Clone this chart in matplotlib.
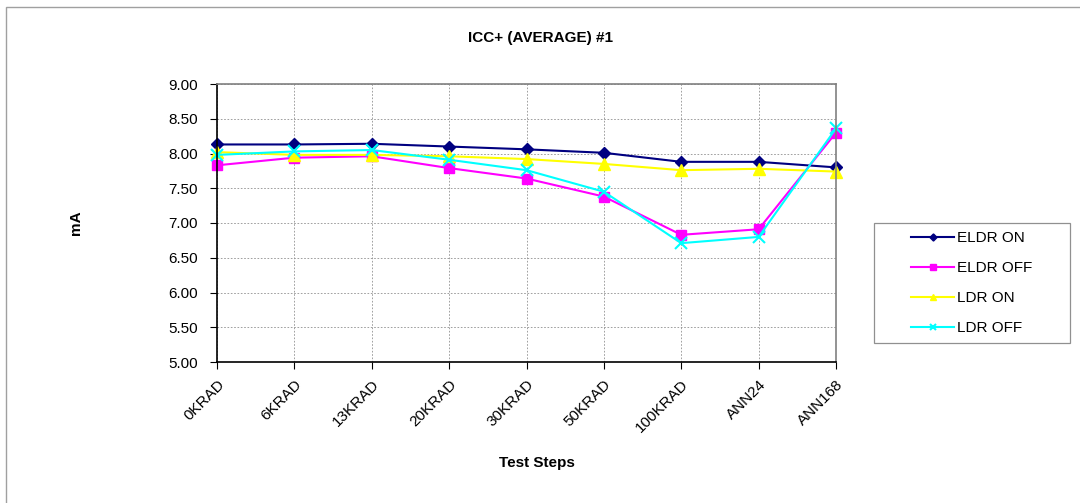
import matplotlib.pyplot as plt
from matplotlib.patches import Rectangle

plt.rcParams['font.family'] = ['Liberation Sans', 'DejaVu Sans']

# datos
pasos = ['0KRAD', '6KRAD', '13KRAD', '20KRAD', '30KRAD', '50KRAD', '100KRAD', 'ANN24', 'ANN168']
eldr_on = [8.13, 8.13, 8.14, 8.10, 8.06, 8.01, 7.88, 7.88, 7.80]
eldr_off = [7.83, 7.94, 7.96, 7.79, 7.64, 7.38, 6.83, 6.91, 8.30]
ldr_on = [8.02, 7.98, 7.98, 7.96, 7.92, 7.85, 7.76, 7.78, 7.74]
ldr_off = [7.98, 8.03, 8.05, 7.91, 7.76, 7.45, 6.71, 6.80, 8.36]

W, H = 1080, 503
fig = plt.figure(figsize=(W / 100, H / 100), dpi=100)
ax = fig.add_axes([217 / W, 1 - 362 / H, (836 - 217) / W, (362 - 84) / H])

# borde exterior del area del grafico (sale por la derecha y abajo)
fig.patches.append(Rectangle((6 / W, -0.05), 1.1, 1.05 - 7 / H,
                             transform=fig.transFigure, fill=False, edgecolor='#a0a0a0', lw=1.0))
# marco de la leyenda
fig.patches.append(Rectangle((874 / W, 1 - 343 / H), (1070 - 874) / W, (343 - 223) / H,
                             transform=fig.transFigure, fill=False, edgecolor='#909090', lw=0.9))

x = list(range(len(pasos)))
ax.plot(x, eldr_on, color='#000080', marker='D', markersize=6, lw=1.5, label='ELDR ON', clip_on=False)
ax.plot(x, eldr_off, color='#ff00ff', marker='s', markersize=7, lw=1.5, label='ELDR OFF', clip_on=False)
ax.plot(x, ldr_on, color='#ffff00', marker='^', markersize=8, lw=1.5, label='LDR ON', clip_on=False)
ax.plot(x, ldr_off, color='#00ffff', marker='x', markersize=8, mew=1.5, lw=1.5, label='LDR OFF', clip_on=False)

ax.set_xlim(0, len(pasos) - 1)
ax.set_ylim(5.0, 9.0)
ax.set_yticks([5.0 + 0.5 * i for i in range(9)])
ax.set_yticklabels(['%.2f' % (5.0 + 0.5 * i) for i in range(9)], fontsize=11)
ax.set_xticks(x)
ax.set_xticklabels(pasos, rotation=45, ha='right', rotation_mode='anchor', fontsize=11)
ax.tick_params(axis='both', direction='out', length=5, color='black')
ax.tick_params(axis='x', pad=6)
ax.tick_params(axis='y', pad=9)

ax.grid(True, color='#909090', linestyle=(0, (2, 2)), lw=0.6)
ax.set_axisbelow(True)
ax.spines['left'].set_color('black')
ax.spines['bottom'].set_color('black')
ax.spines['top'].set_color('#808080')
ax.spines['right'].set_color('#808080')
for s in ax.spines.values():
    s.set_linewidth(1.2)

fig.text(540 / W, 1 - 38 / H, 'ICC+ (AVERAGE) #1', ha='center', va='center',
         fontsize=11, fontweight='bold')
fig.text(76 / W, 1 - 223 / H, 'mA', ha='center', va='center', rotation=90,
         fontsize=11, fontweight='bold')
fig.text(537 / W, 1 - 463 / H, 'Test Steps', ha='center', va='center',
         fontsize=11, fontweight='bold')

leg = ax.legend(loc='center', bbox_to_anchor=((874 + 1070) / 2 / W, 1 - 283 / H),
                bbox_transform=fig.transFigure, fontsize=11, frameon=False,
                handlelength=2.8, handletextpad=0.2, labelspacing=1.05, markerscale=0.6)

fig.savefig('out.png', dpi=100)
